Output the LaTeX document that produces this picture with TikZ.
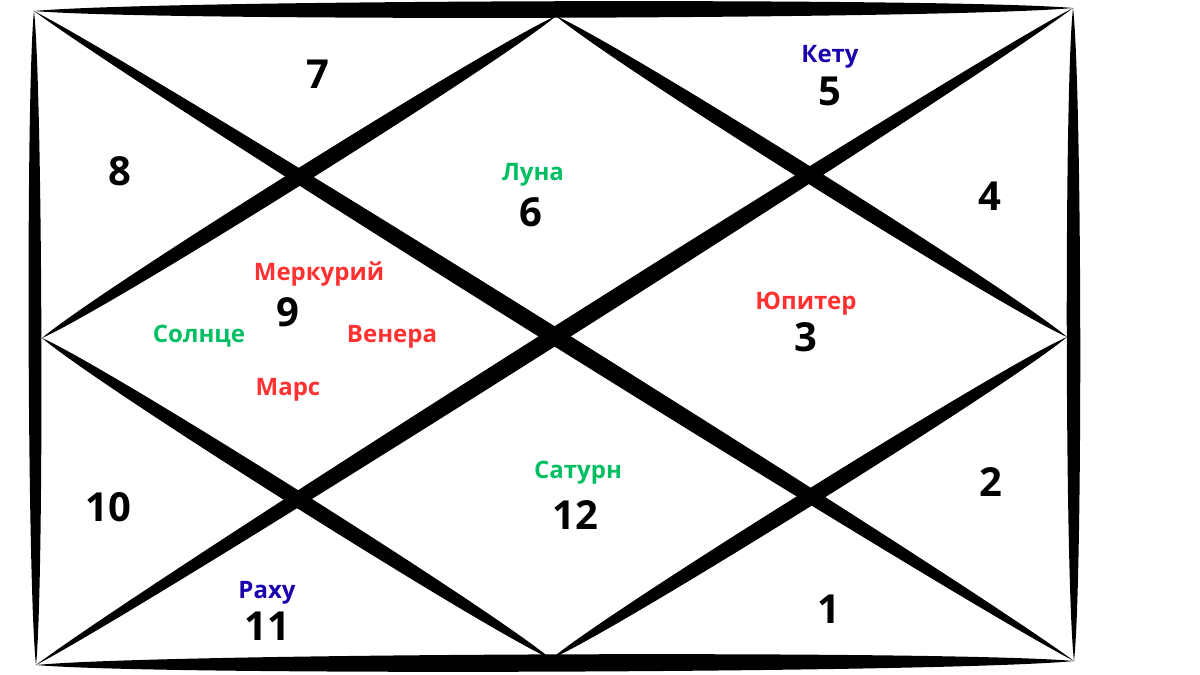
\documentclass[tikz,border=0pt]{standalone}
\usepackage{fontspec}
\setmainfont{Open Sans}
\usetikzlibrary{positioning,calc}

\definecolor{grahared}{HTML}{FF3131}
\definecolor{grahagreen}{HTML}{00BF63}
\definecolor{grahablue}{HTML}{1800AD}

\begin{document}
\begin{tikzpicture}
[x=1pt,y=-1pt,
 every node/.style={inner sep=0pt,outer sep=0pt,text height=0.75em,text depth=0.25em},
 house/.style={font=\fontsize{40}{40}\selectfont\bfseries},
 graha/.style={font=\fontsize{24}{24}\selectfont\bfseries},
 red/.style={graha,text=grahared},
 green/.style={graha,text=grahagreen},
 blue/.style={graha,text=grahablue}]

\useasboundingbox (0,0) rectangle (1200,675);

% corners and midpoints
\coordinate (TL) at (34,11);
\coordinate (TR) at (1073,8);
\coordinate (BR) at (1074,661);
\coordinate (BL) at (36,665);
\coordinate (T)  at (556,16);
\coordinate (L)  at (42,338);
\coordinate (B)  at (551,659);
\coordinate (R)  at (1067,337);

% brush strokes: frame, diagonals, diamond
\foreach \a/\b/\w in {TL/TR/11, BL/BR/11.5, TL/BL/8.5, TR/BR/9,
                      TL/BR/11.5, BL/TR/11.5,
                      T/L/10.5, L/B/10.5, B/R/10.5, R/T/10.5}
  \fill (\a) .. controls ($(\a)!0.12!(\b)!\w pt!90:(\b)$) and ($(\a)!0.88!(\b)!\w pt!90:(\b)$) .. (\b)
             .. controls ($(\a)!0.88!(\b)!\w pt!-90:(\b)$) and ($(\a)!0.12!(\b)!\w pt!-90:(\b)$) .. cycle;

% houses
\node[house] (H1)  at (829,621) {1};
\node[house] (H2)  at (991,494) {2};
\node[house] (H3)  at (806,349) {3};
\node[house] (H4)  at (990,208) {4};
\node[house] (H5)  at (830,103) {5};
\node[house] (H6)  at (531,224) {6};
\node[house] (H7)  at (318,86)  {7};
\node[house] (H8)  at (120,183) {8};
\node[house] (H9)  at (288,324) {9};
\node[house] (H10) at (108,519) {10};
\node[house] (H11) at (267,638) {11};
\node[house] (H12) at (575,527) {12};

% grahas
\node[blue]  (Ketu)    [on grid,above=43pt of H5]                   {Кету};
\node[green] (Luna)    [on grid,above right=46pt and 2pt of H6]     {Луна};
\node[red]   (Merkury) [on grid,above right=46pt and 31pt of H9]    {Меркурий};
\node[green] (Solnce)  [on grid,below left=16pt and 89pt of H9]     {Солнце};
\node[red]   (Venera)  [on grid,below right=16pt and 104pt of H9]   {Венера};
\node[red]   (Mars)    [on grid,below=69pt of H9]                   {Марс};
\node[red]   (Jupiter) [on grid,above=42pt of H3]                   {Юпитер};
\node[green] (Saturn)  [on grid,above right=51pt and 3pt of H12]    {Сатурн};
\node[blue]  (Rahu)    [on grid,above=42pt of H11]                  {Раху};

\end{tikzpicture}
\end{document}
